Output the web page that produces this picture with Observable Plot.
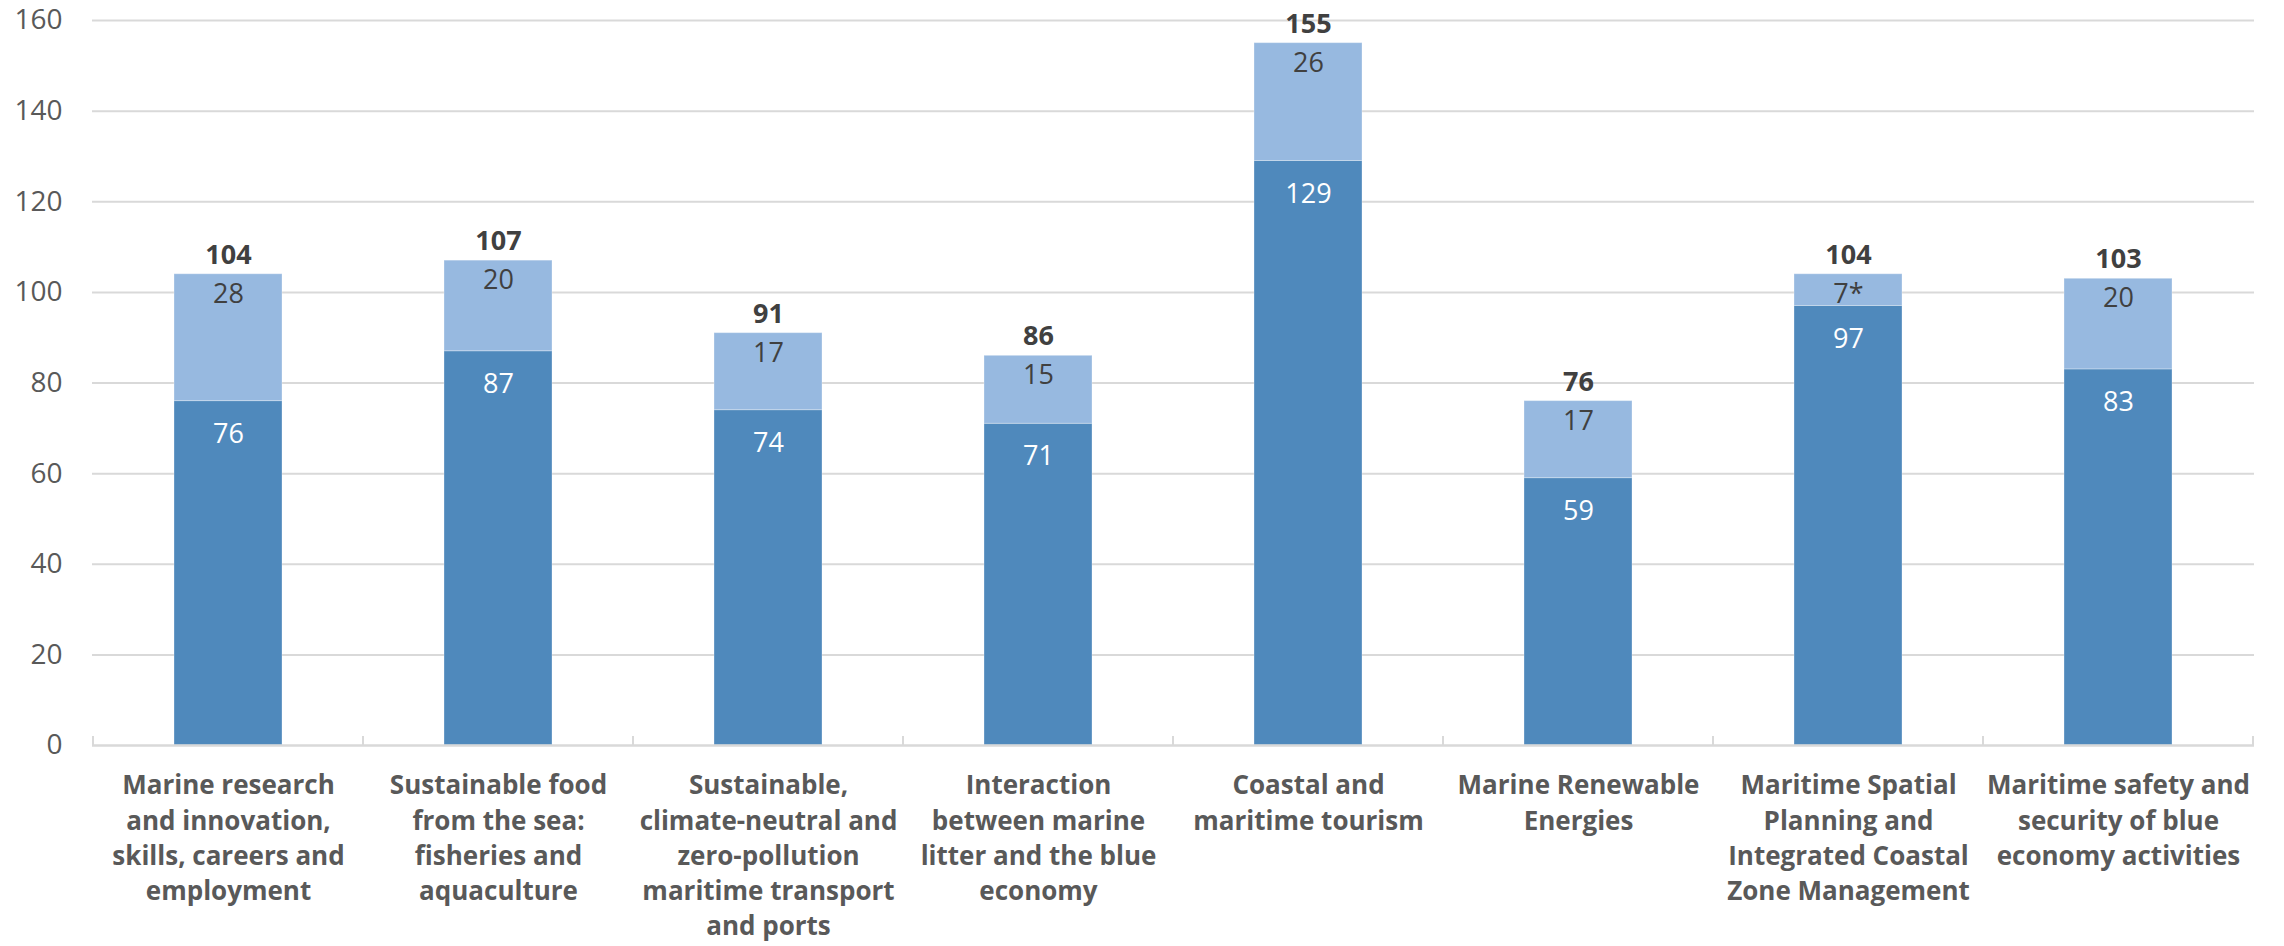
<!DOCTYPE html>
<html>
<head>
<meta charset="utf-8">
<script src="https://cdn.jsdelivr.net/npm/d3@7"></script>
<script src="https://cdn.jsdelivr.net/npm/@observablehq/plot@0.6"></script>
<style>
  html, body { margin: 0; padding: 0; background: #fff; }
</style>
</head>
<body>
<div id="chart"></div>
<script>
const categories = [
  "Marine research and innovation, skills, careers and employment",
  "Sustainable food from the sea: fisheries and aquaculture",
  "Sustainable, climate-neutral and zero-pollution maritime transport and ports",
  "Interaction between marine litter and the blue economy",
  "Coastal and maritime tourism",
  "Marine Renewable Energies",
  "Maritime Spatial Planning and Integrated Coastal Zone Management",
  "Maritime safety and security of blue economy activities"
];
const tickLabels = [
  "Marine research\nand innovation,\nskills, careers and\nemployment",
  "Sustainable food\nfrom the sea:\nfisheries and\naquaculture",
  "Sustainable,\nclimate-neutral and\nzero-pollution\nmaritime transport\nand ports",
  "Interaction\nbetween marine\nlitter and the blue\neconomy",
  "Coastal and\nmaritime tourism",
  "Marine Renewable\nEnergies",
  "Maritime Spatial\nPlanning and\nIntegrated Coastal\nZone Management",
  "Maritime safety and\nsecurity of blue\neconomy activities"
];
const darkValues = [76, 87, 74, 71, 129, 59, 97, 83];
const lightValues = [28, 20, 17, 15, 26, 17, 7, 20];
const lightNotes = ["", "", "", "", "", "", "*", ""];
const totals = [104, 107, 91, 86, 155, 76, 104, 103];
const yTicks = [0, 20, 40, 60, 80, 100, 120, 140, 160];

const DARK = "#4f89bc";
const LIGHT = "#97b9e0";

const rows = [];
categories.forEach((c, i) => {
  rows.push({cat: c, series: "dark", value: darkValues[i]});
  rows.push({cat: c, series: "light", value: lightValues[i]});
});
const cats = categories.map((c, i) => ({
  cat: c, dark: darkValues[i], light: lightValues[i],
  lightLabel: lightValues[i] + lightNotes[i], total: totals[i]
}));
const labelOf = new Map(categories.map((c, i) => [c, tickLabels[i]]));

// ticks at the band boundaries, drawn from the x scale
function boundaryTicks(index, scales, values, dims) {
  const x = scales.x;
  const step = x.step();
  const bw = x.bandwidth();
  const y0 = scales.y(0);
  const g = d3.create("svg:g");
  const edges = categories.map(c => x(c) + bw / 2 - step / 2);
  edges.push(x(categories[categories.length - 1]) + bw / 2 + step / 2);
  for (const e of edges) {
    g.append("line")
      .attr("x1", e).attr("x2", e)
      .attr("y1", y0 - 9).attr("y2", y0)
      .attr("stroke", "#d9d9d9").attr("stroke-width", 2);
  }
  return g.node();
}

const chart = Plot.plot({
  width: 2284,
  height: 946,
  marginLeft: 92,
  marginRight: 30,
  marginTop: 20,
  marginBottom: 201,
  style: {fontFamily: "'Open Sans', sans-serif", background: "#fff", overflow: "visible"},
  x: {domain: categories, paddingInner: 0.6, paddingOuter: 0.3, label: null},
  y: {domain: [0, 160], label: null},
  color: {domain: ["dark", "light"], range: [DARK, LIGHT]},
  marks: [
    Plot.gridY(yTicks.filter(d => d > 0), {stroke: "#d9d9d9", strokeOpacity: 1, strokeWidth: 2}),
    Plot.axisY(yTicks, {tickSize: 0, tickPadding: 30, fontSize: 28, fill: "#595959", label: null}),
    Plot.barY(rows, {x: "cat", y: "value", fill: "series", order: ["dark", "light"], stroke: "#fff", strokeWidth: 1, strokeOpacity: 0.3}),
    Plot.ruleY([0], {stroke: "#d9d9d9", strokeWidth: 2.5}),
    boundaryTicks,
    Plot.axisX({
      tickSize: 0, tickPadding: 24, fontSize: 26, fontWeight: "bold", fill: "#595959",
      lineHeight: 1.35, tickFormat: d => labelOf.get(d), label: null
    }),
    Plot.text(cats, {x: "cat", y: "dark", text: d => String(d.dark), dy: 33, fill: "#fff", fontSize: 27}),
    Plot.text(cats, {x: "cat", y: "total", text: "lightLabel", dy: 20, fill: "#404040", fontSize: 27}),
    Plot.text(cats, {x: "cat", y: "total", text: d => String(d.total), dy: -19, fill: "#404040", fontSize: 27, fontWeight: "bold"})
  ]
});
document.getElementById("chart").appendChild(chart);
</script>
</body>
</html>
